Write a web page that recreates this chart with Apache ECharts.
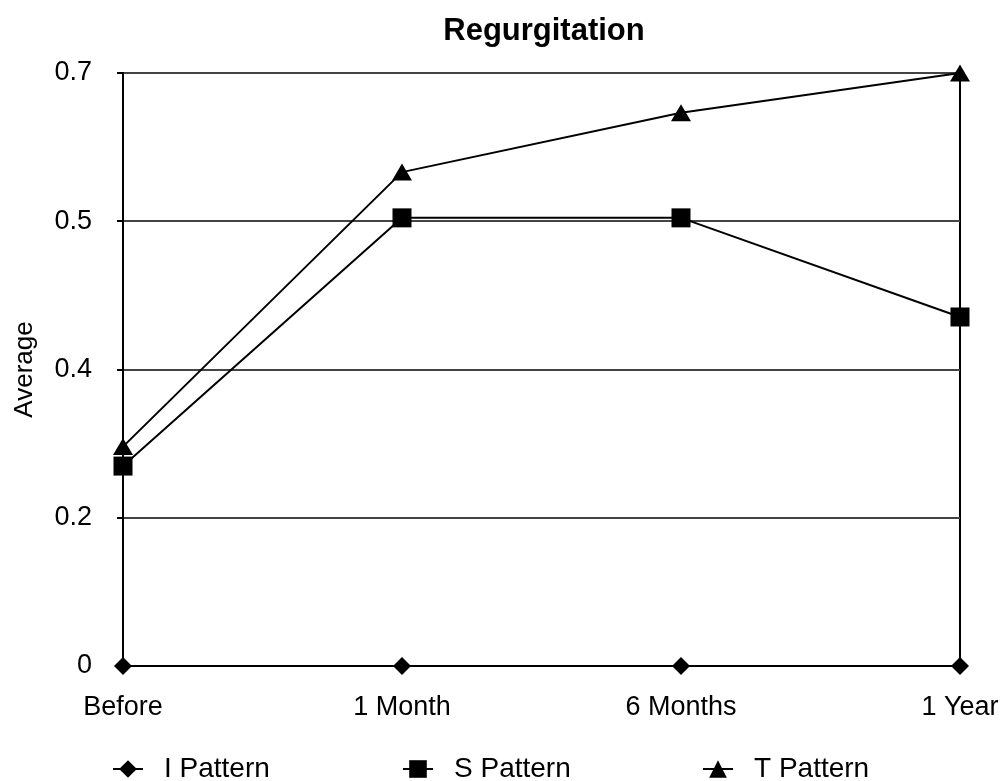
<!DOCTYPE html>
<html><head><meta charset="utf-8">
<script src="https://cdn.jsdelivr.net/npm/echarts@6/dist/echarts.min.js"></script>
<style>html,body{margin:0;padding:0;background:#fff}#c{width:1001px;height:781px}</style>
</head><body><div id="c"></div>
<script>
const categories = ['Before', '1 Month', '6 Months', '1 Year'];
const iPattern = [0, 0, 0, 0];
const sPattern = [0.236, 0.529, 0.529, 0.412];
const tPattern = [0.259, 0.583, 0.653, 0.7];
const yTickLabels = ['0', '0.2', '0.4', '0.5', '0.7'];
const seriesNames = ['I Pattern', 'S Pattern', 'T Pattern'];

const font = '"Liberation Sans", Arial, Helvetica, sans-serif';
const chart = echarts.init(document.getElementById('c'), null, {renderer: 'canvas'});
const lineStyle = {color: '#000', width: 2};
function mk(name, data, symbol, size) {
  return {
    name: name, type: 'line', data: data, symbol: symbol, symbolSize: size,
    itemStyle: {color: '#000'}, lineStyle: lineStyle, z: 5
  };
}
chart.setOption({
  animation: false,
  backgroundColor: '#fff',
  textStyle: {fontFamily: font},
  title: {
    text: 'Regurgitation', left: 539, top: 11, textAlign: 'center',
    textStyle: {fontFamily: font, fontSize: 31, fontWeight: 'bold', color: '#000'}
  },
  grid: {left: 123, right: 41, top: 73, bottom: 115, show: true, borderColor: '#000', borderWidth: 2,
         containLabel: false, outerBoundsMode: 'none'},
  legend: [
    {data: [seriesNames[0]], left: 107, top: 750},
    {data: [seriesNames[1]], left: 397, top: 750},
    {data: [seriesNames[2]], left: 697, top: 750}
  ].map(l => Object.assign(l, {
    itemWidth: 30, itemHeight: 22, itemGap: 10,
    textStyle: {fontFamily: font, fontSize: 28, color: '#000', padding: [0, 0, 0, 16]}
  })),
  xAxis: {
    type: 'category', data: categories, boundaryGap: false,
    axisLine: {show: true, lineStyle: {color: '#000', width: 2}},
    axisTick: {show: false},
    axisLabel: {fontFamily: font, fontSize: 27, color: '#000', margin: 28}
  },
  yAxis: {
    type: 'value', min: 0, max: 0.7, interval: 0.175,
    name: 'Average', nameLocation: 'middle', nameGap: 85, nameRotate: 90,
    nameTextStyle: {fontFamily: font, fontSize: 26, color: '#000'},
    axisLine: {show: true, lineStyle: {color: '#000', width: 2}},
    axisTick: {show: true, length: 6, lineStyle: {color: '#000', width: 2}},
    axisLabel: {
      fontFamily: font, fontSize: 27, color: '#000', margin: 31,
      formatter: function (v) { return yTickLabels[Math.round(v / 0.175)]; }
    },
    splitLine: {show: true, lineStyle: {color: '#444', width: 2}}
  },
  series: [
    mk(seriesNames[0], iPattern, 'diamond', 18),
    mk(seriesNames[1], sPattern, 'rect', 19),
    mk(seriesNames[2], tPattern, 'triangle', [20, 17])
  ]
});
</script></body></html>
